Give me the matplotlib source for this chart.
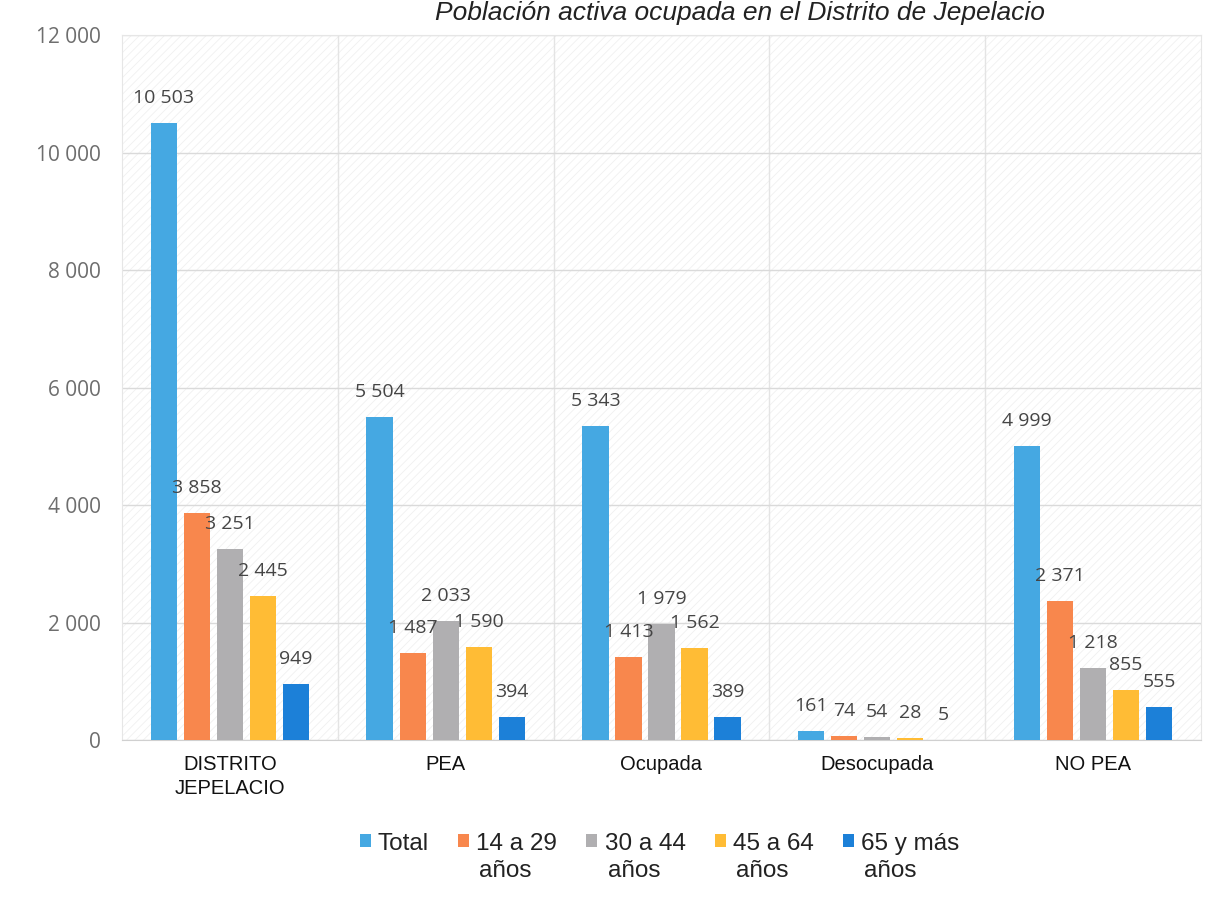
import matplotlib
matplotlib.use("Agg")
import matplotlib.pyplot as plt
import numpy as np
from matplotlib.ticker import FuncFormatter, FixedLocator

categories = ["DISTRITO\nJEPELACIO", "PEA", "Ocupada", "Desocupada", "NO PEA"]
series_names = ["Total", "14 a 29\naños", "30 a 44\naños", "45 a 64\naños", "65 y más\naños"]
total = [10503, 5504, 5343, 161, 4999]
a14_29 = [3858, 1487, 1413, 74, 2371]
a30_44 = [3251, 2033, 1979, 54, 1218]
a45_64 = [2445, 1590, 1562, 28, 855]
a65 = [949, 394, 389, 5, 555]
yticks = [0, 2000, 4000, 6000, 8000, 10000, 12000]
title = "Población activa ocupada en el Distrito de Jepelacio"

series = [total, a14_29, a30_44, a45_64, a65]
colors = ["#45A8E2", "#F8874D", "#B0AFB1", "#FFBC35", "#1C80D8"]

def fmt(v):
    return f"{int(v):,}".replace(",", " ")

plt.rcParams["hatch.linewidth"] = 0.6
fig = plt.figure(figsize=(12.26, 9.05), dpi=100)
ax = fig.add_axes([0.0995, 0.1823, 0.8801, 0.779])
ax.set_facecolor("white")
ax.patch.set_hatch("////")
ax.patch.set_edgecolor("#f0f0f0")

x = np.arange(len(categories))
step = 0.153
width = 0.122
handles = []
for i, (vals, c) in enumerate(zip(series, colors)):
    pos = x + (i - 2) * step
    b = ax.bar(pos, vals, width=width, color=c, zorder=3)
    handles.append(b)
    for p, v in zip(pos, vals):
        ax.annotate(fmt(v), (p, v), xytext=(0, 18), textcoords="offset points",
                    ha="center", va="center", fontsize=14, color="#454545",
                    family=["Open Sans", "DejaVu Sans"], zorder=4)

ax.set_xlim(-0.5, len(categories) - 0.5)
ax.set_ylim(0, 12000)
ax.set_yticks(yticks)
ax.yaxis.set_major_formatter(FuncFormatter(lambda v, p: fmt(v)))
ax.set_xticks(x)
ax.set_xticklabels(categories, fontsize=14.5, color="#111111",
                   family=["Liberation Sans", "DejaVu Sans"], linespacing=1.3)
ax.xaxis.set_minor_locator(FixedLocator(np.arange(0.5, len(categories) - 0.5, 1)))
ax.tick_params(axis="y", length=0, pad=15, labelsize=15, labelcolor="#6e6e6e")
for lab in ax.get_yticklabels():
    lab.set_family(["Open Sans", "DejaVu Sans"])
ax.tick_params(axis="x", which="both", length=0, pad=11)
ax.grid(axis="y", which="major", color="#dadada", linewidth=1, zorder=0)
ax.grid(axis="x", which="minor", color="#e4e4e4", linewidth=1, zorder=0)
for s in ax.spines.values():
    s.set_color("#e6e6e6")
ax.spines["bottom"].set_color("#d0d0d0")

fig.text(1045 / 1226, 0.999, title, ha="right", va="top", fontsize=19,
         style="italic", color="#222222", family=["Liberation Sans", "DejaVu Sans"])

first_lines = [n.split("\n")[0] for n in series_names]
leg = fig.legend(handles, first_lines, loc="upper center", bbox_to_anchor=(0.538, 0.080),
                 ncol=5, frameon=False, handlelength=0.45, handleheight=0.45,
                 handletextpad=0.3, columnspacing=1.2, borderaxespad=0, borderpad=0,
                 prop={"family": ["Liberation Sans", "DejaVu Sans"], "size": 17.5})
for t in leg.get_texts():
    t.set_color("#222222")

fig.canvas.draw()
inv = fig.transFigure.inverted()
for t, name in zip(leg.get_texts(), series_names):
    parts = name.split("\n")
    if len(parts) > 1:
        bb = t.get_window_extent()
        x0, y0 = inv.transform((bb.x0, bb.y0))
        fig.text(x0 + 3 / 1226, y0 - 5 / 905, parts[1], ha="left", va="top", fontsize=17.5,
                 color="#222222", family=["Liberation Sans", "DejaVu Sans"])

fig.savefig("out.png", dpi=100, facecolor="white")
